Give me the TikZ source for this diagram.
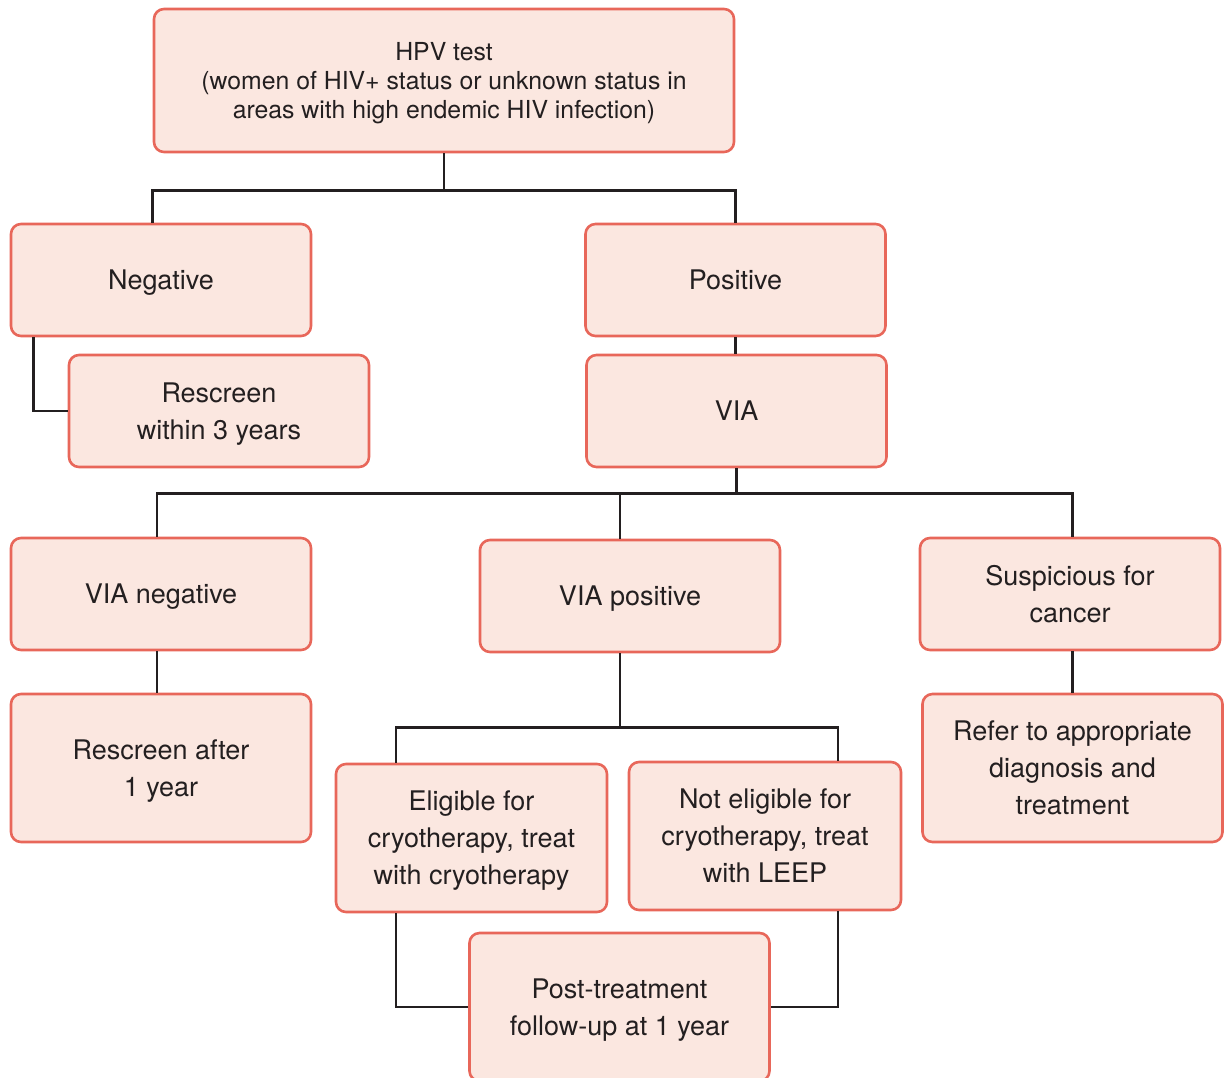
\documentclass[tikz,border=0pt]{standalone}
\usepackage{fontspec}
\setmainfont{TeX Gyre Heros}
\usepackage{xcolor}
\usepackage{tikz}

\definecolor{boxfill}{HTML}{FBE7E0}
\definecolor{boxline}{HTML}{E8675A}
\definecolor{txt}{HTML}{231F20}

\begin{document}
\begin{tikzpicture}[x=0.5pt, y=-0.5pt, every node/.style={rectangle, rounded corners=5pt, draw=boxline, fill=boxfill, line width=1.3pt, align=center, inner sep=0pt, text=txt, text depth=0pt, minimum width=150pt, minimum height=56pt, font=\fontsize{13.5}{18.5}\selectfont}, tall/.style={minimum height=74pt}, link/.style={draw=txt, line width=1.3pt}]
    \useasboundingbox (0,0) rectangle (1224,1077);

    \node (HPV) [minimum width=290pt, minimum height=71.5pt, font=\fontsize{12.4}{14.5}\selectfont] at (444,80.5) {HPV test\\(women of HIV+ status or unknown status in\\areas with high endemic HIV infection)};
    \node (NEG) at (161,280) {Negative};
    \node (POS) at (735.5,280) {Positive};
    \node (RS3) at (219,411) {Rescreen\\within 3 years};
    \node (VIA) at (736.5,411) {VIA};
    \node (VNEG) at (161,594) {VIA negative};
    \node (VPOS) at (630,596) {VIA positive};
    \node (SUS) at (1070,594) {Suspicious for\\cancer};
    \node (RS1) [tall] at (161,768) {Rescreen after\\1 year};
    \node (ELIG) [tall, minimum width=135.5pt] at (471.5,838) {Eligible for\\cryotherapy, treat\\with cryotherapy};
    \node (NELIG) [tall, minimum width=136pt] at (765,836) {Not eligible for\\cryotherapy, treat\\with LEEP};
    \node (REF) [tall] at (1072.5,768) {Refer to appropriate\\diagnosis and\\treatment};
    \node (POST) [tall] at (619.5,1007) {Post-treatment\\follow-up at 1 year};

    \draw[link] (HPV.south) -- ++(0,37) coordinate (J1);
    \draw[link] (HPV.west |- NEG.north) |- (J1) -| (HPV.east |- POS.north);
    \draw[link] ([xshift=12pt]NEG.south west) |- (RS3.west);
    \draw[link] (POS.south) -- (POS.south |- VIA.north);

    \draw[link] (VIA.south) -- ++(0,25) coordinate (J2);
    \draw[link] ([xshift=-2pt]VNEG.north) |- (J2) -| (REF.north |- SUS.north);
    \draw[link] ([xshift=-5pt]VPOS.north) -- ([xshift=-5pt]VPOS.north |- J2);
    \draw[link] ([xshift=-2pt]VNEG.south) -- ([xshift=-2pt]VNEG.south |- RS1.north);
    \draw[link] (REF.north) -- (REF.north |- SUS.south);

    \draw[link] ([xshift=-5pt]VPOS.south) -- ++(0,74) coordinate (J3);
    \draw[link] ([xshift=-37.75pt]ELIG.north) |- (J3) -| ([xshift=36.5pt]NELIG.north);
    \draw[link] ([xshift=-37.75pt]ELIG.south) |- (POST.west);
    \draw[link] ([xshift=36.5pt]NELIG.south) |- (POST.east);
\end{tikzpicture}
\end{document}
